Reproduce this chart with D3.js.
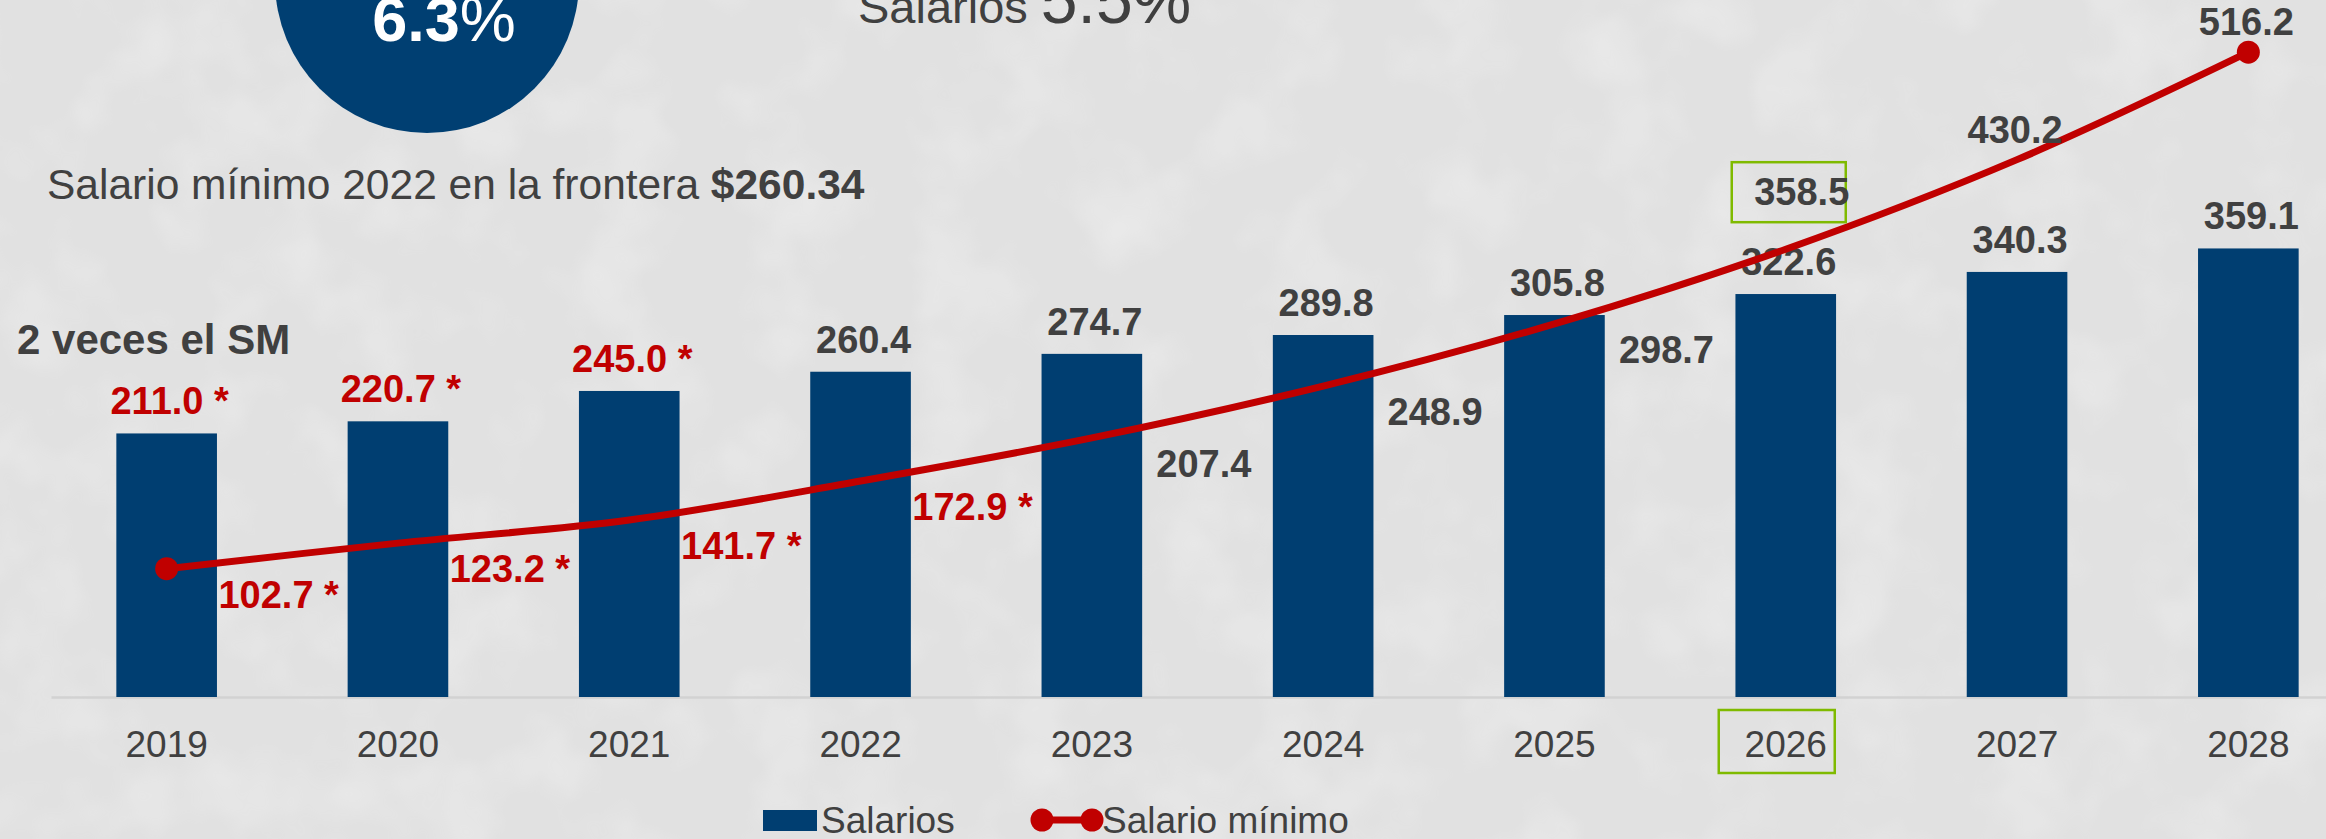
<!DOCTYPE html>
<html lang="es">
<head>
<meta charset="utf-8">
<script src="https://cdn.jsdelivr.net/npm/d3@7"></script>
<style>
  html, body { margin: 0; padding: 0; background: #e3e3e3; overflow: hidden; }
  svg { display: block; font-family: "Liberation Sans", Arial, sans-serif; }
</style>
</head>
<body>
<svg id="grafica"></svg>
<script>
// Datos
const anios = ['2019', '2020', '2021', '2022', '2023', '2024', '2025', '2026', '2027', '2028'];
const salarios = [211.0, 220.7, 245.0, 260.4, 274.7, 289.8, 305.8, 322.6, 340.3, 359.1];
const salarioMinimo = [102.7, 123.2, 141.7, 172.9, 207.4, 248.9, 298.7, 358.5, 430.2, 516.2];
// cifras marcadas con asterisco (en rojo)
const salariosAsterisco = [true, true, true, false, false, false, false, false, false, false];
const minimoAsterisco = [true, true, true, true, false, false, false, false, false, false];
const anioDestacado = '2026';

const width = 2326;
const height = 839;
const gris = '#404040';
const rojo = '#c00000';
const azul = '#003e71';
const verde = '#7fba00';

const svg = d3.select('#grafica')
    .attr('width', width)
    .attr('height', height);

// Fondo gris con textura ligera
const defs = svg.append('defs');
const filtro = defs.append('filter').attr('id', 'ruido')
    .attr('x', 0).attr('y', 0).attr('width', '100%').attr('height', '100%');
filtro.append('feTurbulence')
    .attr('type', 'fractalNoise')
    .attr('baseFrequency', 0.012)
    .attr('numOctaves', 3)
    .attr('seed', 4);
filtro.append('feColorMatrix')
    .attr('type', 'matrix')
    .attr('values', '0 0 0 0 1  0 0 0 0 1  0 0 0 0 1  0 0 0 1.2 -0.55');

svg.append('rect')
    .attr('width', width).attr('height', height)
    .attr('fill', '#e1e1e1');
svg.append('rect')
    .attr('width', width).attr('height', height)
    .attr('filter', 'url(#ruido)')
    .attr('opacity', 0.5);

// Escalas
const x = d3.scaleBand()
    .domain(anios)
    .range([51, 2364])
    .paddingInner(0.565)
    .paddingOuter(0.2825);

const y = d3.scaleLinear()
    .domain([0, 558])
    .range([697, 0]);

const cx = d => x(d) + x.bandwidth() / 2;

// Eje X
const ejeX = svg.append('g')
    .attr('transform', `translate(0,${y(0)})`)
    .call(d3.axisBottom(x).tickSize(0).tickPadding(34));
ejeX.select('.domain')
    .attr('stroke', '#d2d2d2')
    .attr('stroke-width', 2.5);
ejeX.selectAll('text')
    .attr('fill', gris)
    .style('font-size', '37px')
    .style('font-family', '"Liberation Sans", Arial, sans-serif');

// Recuadro verde en el año destacado
svg.append('rect')
    .attr('x', cx(anioDestacado) - 67)
    .attr('y', y(0) + 13)
    .attr('width', 116)
    .attr('height', 63)
    .attr('fill', 'none')
    .attr('stroke', verde)
    .attr('stroke-width', 2.5);

// Barras de salarios
svg.selectAll('.barra')
    .data(anios)
    .enter()
    .append('rect')
    .attr('class', 'barra')
    .attr('x', d => x(d))
    .attr('y', (d, i) => y(salarios[i]))
    .attr('width', x.bandwidth())
    .attr('height', (d, i) => y(0) - y(salarios[i]))
    .attr('fill', azul);

// Etiquetas de las barras
svg.selectAll('.etiquetaBarra')
    .data(anios)
    .enter()
    .append('text')
    .attr('class', 'etiquetaBarra')
    .attr('x', d => cx(d) + 3)
    .attr('y', (d, i) => y(salarios[i]) - 19)
    .attr('text-anchor', 'middle')
    .attr('fill', (d, i) => salariosAsterisco[i] ? rojo : gris)
    .style('font-size', '38px')
    .style('font-weight', 'bold')
    .text((d, i) => salarios[i].toFixed(1) + (salariosAsterisco[i] ? ' *' : ''));

// Línea de salario mínimo (suavizada)
const linea = d3.line()
    .x(d => cx(d))
    .y((d, i) => y(salarioMinimo[i]))
    .curve(d3.curveCatmullRom.alpha(0.5));

svg.append('path')
    .datum(anios)
    .attr('d', linea)
    .attr('fill', 'none')
    .attr('stroke', rojo)
    .attr('stroke-width', 7)
    .attr('stroke-linecap', 'round');

// Marcadores: primer y último punto
const extremos = [0, anios.length - 1];
svg.selectAll('.marcador')
    .data(extremos)
    .enter()
    .append('circle')
    .attr('class', 'marcador')
    .attr('cx', i => cx(anios[i]))
    .attr('cy', i => y(salarioMinimo[i]))
    .attr('r', 11.5)
    .attr('fill', rojo);

// Recuadro verde alrededor de la etiqueta destacada
const iDest = anios.indexOf(anioDestacado);
svg.append('rect')
    .attr('x', cx(anioDestacado) - 54)
    .attr('y', y(salarioMinimo[iDest]) - 87)
    .attr('width', 114)
    .attr('height', 60)
    .attr('fill', 'none')
    .attr('stroke', verde)
    .attr('stroke-width', 2.5);

// Etiquetas de la línea
svg.selectAll('.etiquetaLinea')
    .data(anios)
    .enter()
    .append('text')
    .attr('class', 'etiquetaLinea')
    .attr('x', (d, i) => {
        if (d === anioDestacado) return cx(d) + 16;
        return i < iDest ? cx(d) + 112 : cx(d) - 2;
    })
    .attr('y', (d, i) => {
        if (d === anioDestacado) return y(salarioMinimo[i]) - 44;
        return i < iDest ? y(salarioMinimo[i]) + 39 : y(salarioMinimo[i]) - 17;
    })
    .attr('text-anchor', 'middle')
    .attr('fill', (d, i) => minimoAsterisco[i] ? rojo : gris)
    .style('font-size', '38px')
    .style('font-weight', 'bold')
    .text((d, i) => salarioMinimo[i].toFixed(1) + (minimoAsterisco[i] ? ' *' : ''));

// Círculo azul con el porcentaje
svg.append('circle')
    .attr('cx', 427)
    .attr('cy', -19)
    .attr('r', 152)
    .attr('fill', '#003f72');

const pct = svg.append('text')
    .attr('x', 444)
    .attr('y', 41)
    .attr('text-anchor', 'middle')
    .attr('fill', '#ffffff')
    .style('font-size', '63px');
pct.append('tspan').style('font-weight', 'bold').text('6.3');
pct.append('tspan').text('%');

// Texto superior
const tituloSal = svg.append('text')
    .attr('x', 858)
    .attr('y', 23)
    .attr('fill', gris);
tituloSal.append('tspan').style('font-size', '47px').text('Salarios ');
tituloSal.append('tspan').style('font-size', '66px').text('5.5%');

const frontera = svg.append('text')
    .attr('x', 47)
    .attr('y', 199)
    .attr('fill', gris)
    .style('font-size', '42.5px');
frontera.append('tspan').text('Salario mínimo 2022 en la frontera ');
frontera.append('tspan').style('font-weight', 'bold').text('$260.34');

svg.append('text')
    .attr('x', 17)
    .attr('y', 354)
    .attr('fill', gris)
    .style('font-size', '42px')
    .style('font-weight', 'bold')
    .text('2 veces el SM');

// Leyenda
const leyenda = svg.append('g').attr('class', 'leyenda');

leyenda.append('rect')
    .attr('x', 763)
    .attr('y', 810)
    .attr('width', 54)
    .attr('height', 21)
    .attr('fill', azul);

leyenda.append('text')
    .attr('x', 821)
    .attr('y', 833)
    .attr('fill', gris)
    .style('font-size', '37px')
    .text('Salarios');

leyenda.append('line')
    .attr('x1', 1042).attr('x2', 1092)
    .attr('y1', 820).attr('y2', 820)
    .attr('stroke', rojo)
    .attr('stroke-width', 7);

leyenda.selectAll('.puntoLeyenda')
    .data([1042, 1092])
    .enter()
    .append('circle')
    .attr('cx', d => d)
    .attr('cy', 820)
    .attr('r', 11.5)
    .attr('fill', rojo);

leyenda.append('text')
    .attr('x', 1102)
    .attr('y', 833)
    .attr('fill', gris)
    .style('font-size', '37px')
    .text('Salario mínimo');
</script>
</body>
</html>
